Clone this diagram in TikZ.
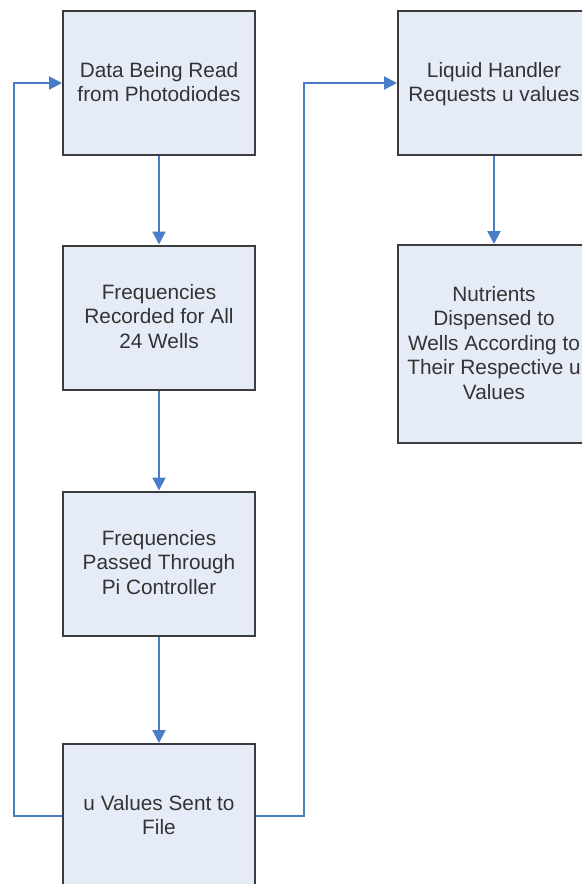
\documentclass[tikz,border=0pt]{standalone}
\usepackage{fontspec}
\setmainfont{Liberation Sans}
\usetikzlibrary{arrows.meta}
\definecolor{boxfill}{HTML}{E6ECF7}
\definecolor{boxline}{HTML}{3C3C3C}
\definecolor{arrowblue}{HTML}{4A7DC8}
\definecolor{txt}{HTML}{333333}
\newcommand\boxtext[1]{\raisebox{-1.5pt}[\height][\depth]{\makebox[180pt]{\begin{tabular}{@{}c@{}}#1\end{tabular}}}}
\begin{document}
\begin{tikzpicture}[x=1pt,y=1pt,
  stepbox/.style={draw=boxline, line width=2pt, fill=boxfill, minimum width=192pt, minimum height=144pt,
    align=center, text=txt, font=\fontsize{20.8pt}{24.5pt}\selectfont, inner sep=0pt},
  flow/.style={draw=arrowblue, line width=2pt, -{Triangle[length=13pt,width=13pt]}}]
\path[use as bounding box, clip] (0,0) rectangle (582,-884);
\fill[white] (0,0) rectangle (582,-884);
\node[stepbox] (b1) at (159,-83) {\boxtext{Data Being Read\\from Photodiodes}};
\node[stepbox] (b2) at (159,-317.5) {\boxtext{Frequencies\\Recorded for All\\24 Wells}};
\node[stepbox] (b3) at (159,-563.5) {\boxtext{Frequencies\\Passed Through\\Pi Controller}};
\node[stepbox] (b4) at (159,-816) {\boxtext{u Values Sent to\\File}};
\node[stepbox] (r1) at (494,-83) {\boxtext{Liquid Handler\\Requests u values}};
\node[stepbox, minimum height=198pt] (r2) at (494,-344) {\boxtext{Nutrients\\Dispensed to\\Wells According to\\Their Respective u\\Values}};
\draw[flow] (b1.south) -- (b2.north);
\draw[flow] (b2.south) -- (b3.north);
\draw[flow] (b3.south) -- (b4.north);
\draw[flow] (r1.south) -- (r2.north);
\draw[flow] (b4.west) -- ++(-48,0) |- (b1.west);
\draw[flow] (b4.east) -- ++(48,0) |- (r1.west);
\end{tikzpicture}
\end{document}
